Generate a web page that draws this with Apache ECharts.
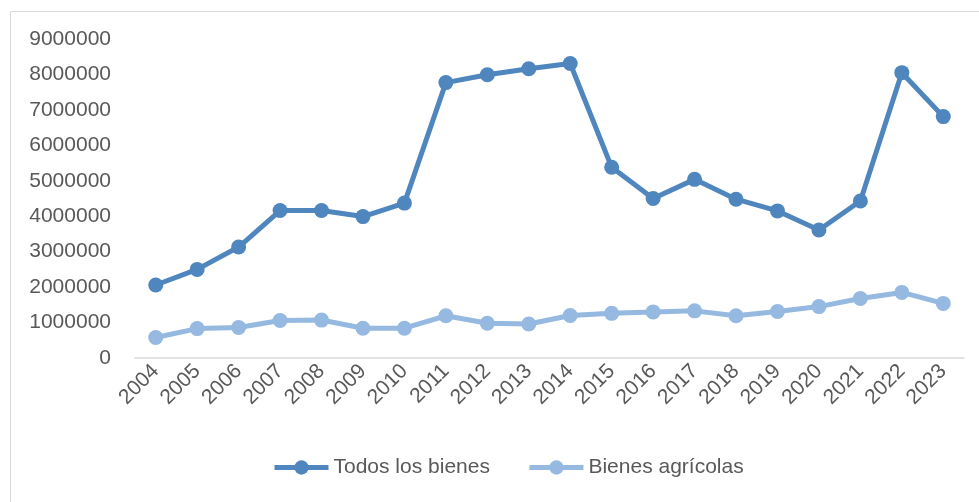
<!DOCTYPE html>
<html><head><meta charset="utf-8">
<script src="https://cdn.jsdelivr.net/npm/echarts@6/dist/echarts.min.js"></script>
<style>html,body{margin:0;padding:0;background:#fff}#c{width:979px;height:502px}</style>
</head><body><div id="c"></div>
<script>
var years = ['2004','2005','2006','2007','2008','2009','2010','2011','2012','2013','2014','2015','2016','2017','2018','2019','2020','2021','2022','2023'];
var todosLosBienes = [2060000,2500000,3130000,4160000,4160000,3990000,4370000,7770000,7990000,8160000,8310000,5380000,4500000,5040000,4480000,4150000,3610000,4430000,8050000,6810000];
var bienesAgricolas = [580000,830000,860000,1060000,1070000,840000,840000,1190000,980000,960000,1200000,1260000,1300000,1330000,1190000,1310000,1450000,1680000,1850000,1540000];
var seriesNames = ['Todos los bienes','Bienes agrícolas'];

var font = 'Liberation Sans';
var chart = echarts.init(document.getElementById('c'), null, {renderer:'canvas'});
chart.setOption({
  animation:false,
  textStyle:{fontFamily:font},
  graphic:[{type:'rect',shape:{x:10.5,y:11.5,width:1000,height:600},style:{fill:null,stroke:'#D9D9D9',lineWidth:1},silent:true}],
  grid:{left:135,right:15,top:39,bottom:144,containLabel:false},
  legend:{bottom:24,left:272,padding:0,itemWidth:54,itemHeight:18,itemGap:37,
    lineStyle:{width:5},
    textStyle:{fontSize:21,color:'#595959',fontFamily:font},data:seriesNames},
  xAxis:{type:'category',data:years,boundaryGap:true,
    axisLine:{lineStyle:{color:'#D9D9D9',width:1.5}},axisTick:{show:false},
    axisLabel:{rotate:45,fontSize:21,color:'#595959',margin:10,interval:0,fontFamily:font}},
  yAxis:{type:'value',min:0,max:9000000,interval:1000000,
    splitLine:{show:false},axisLine:{show:false},axisTick:{show:false},
    axisLabel:{fontSize:21,color:'#595959',margin:24,fontFamily:font,formatter:function(v){return String(v);}}},
  series:[
    {name:seriesNames[0],type:'line',data:todosLosBienes,symbol:'circle',symbolSize:15,
     lineStyle:{color:'#4F86BE',width:5},itemStyle:{color:'#4F86BE'}},
    {name:seriesNames[1],type:'line',data:bienesAgricolas,symbol:'circle',symbolSize:15,
     lineStyle:{color:'#95B9E0',width:5},itemStyle:{color:'#95B9E0'}}
  ]
});
</script></body></html>
